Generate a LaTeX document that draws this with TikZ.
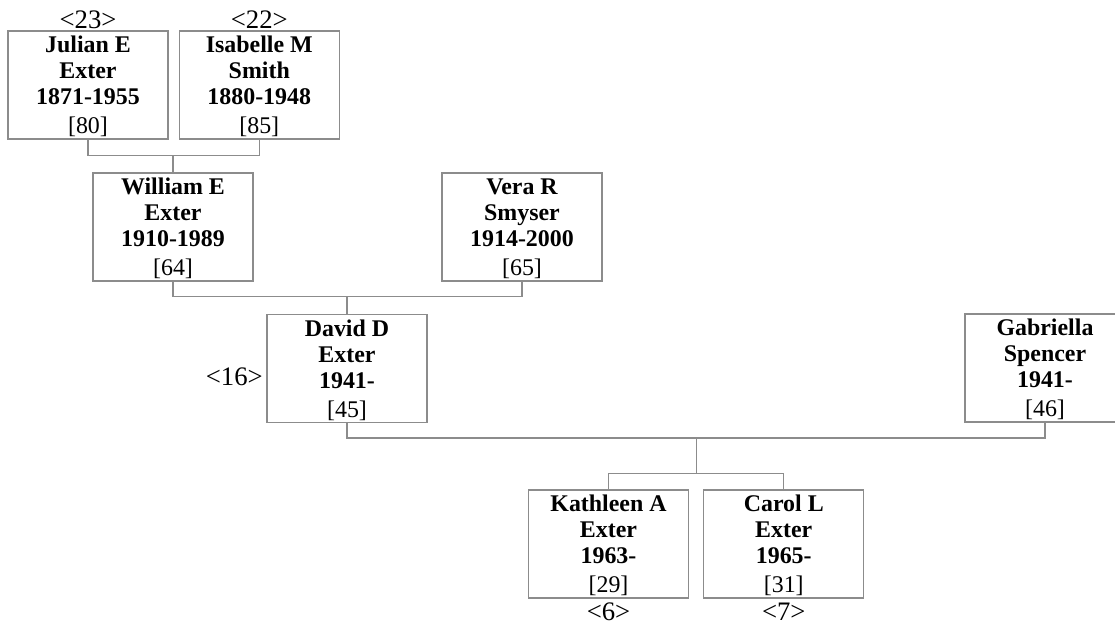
\documentclass[tikz,border=0pt]{standalone}
\usepackage{fontspec}
\setmainfont{Liberation Serif}
\usepackage{tikz}
\usetikzlibrary{positioning, calc}
\definecolor{boxgray}{RGB}{140,140,140}

\begin{document}
\begin{tikzpicture}[
        person/.style={rectangle, draw=boxgray, line width=0.9pt, minimum width=4cm, minimum height=2.7cm, inner sep=1pt, text depth=-5pt, align=center, font=\fontsize{17}{18.6}\selectfont\bfseries},
        idno/.style={inner sep=1pt, font=\fontsize{19}{21}\selectfont},
        famline/.style={draw=boxgray, line width=0.9pt}]
        \useasboundingbox (0,0) rectangle (27.875,15.7);

        \node (julian) [person] at (2.2,13.575) {Julian E\\Exter\\1871-1955\\[2pt]{\mdseries [80]}};
        \node (isabelle) [person, right=0.25cm of julian] {Isabelle M\\Smith\\1880-1948\\[2pt]{\mdseries [85]}};
        \node (william) [person] at (4.325,10.025) {William E\\Exter\\1910-1989\\[2pt]{\mdseries [64]}};
        \node (vera) [person] at (13.05,10.025) {Vera R\\Smyser\\1914-2000\\[2pt]{\mdseries [65]}};
        \node (david) [person] at (8.675,6.4875) {David D\\Exter\\1941-~\\[2pt]{\mdseries [45]}};
        \node (gabriella) [person] at (26.125,6.5) {Gabriella\\Spencer\\1941-~\\[2pt]{\mdseries [46]}};
        \node (kathleen) [person] at (15.2125,2.1) {Kathleen A\\Exter\\1963-~\\[2pt]{\mdseries [29]}};
        \node (carol) [person, right=0.35cm of kathleen] {Carol L\\Exter\\1965-~\\[2pt]{\mdseries [31]}};

        \node (julianno) [idno, above=0pt of julian] {<23>};
        \node (isabelleno) [idno, above=0pt of isabelle] {<22>};
        \node (davidno) [idno, left=0.05cm of david, yshift=-0.2cm] {<16>};
        \node (kathleenno) [idno, below=2pt of kathleen] {<6>};
        \node (carolno) [idno, below=2pt of carol] {<7>};

        \draw [famline] (julian.south) -- ++(0,-0.4) coordinate (fam1) -| (isabelle.south);
        \draw [famline] (william.north) -- (william.north |- fam1);
        \draw [famline] (william.south) -- ++(0,-0.375) coordinate (fam2) -| (vera.south);
        \draw [famline] (david.north) -- (david.north |- fam2);
        \draw [famline] (david.south) -- ++(0,-0.375) coordinate (fam3) -| (gabriella.south);
        \draw [famline] (kathleen.north) -- ++(0,0.4) coordinate (kids) -| (carol.north);
        \coordinate (kidsmid) at ($(kids)!0.5!(kids -| carol.north)$);
        \draw [famline] (kidsmid) -- (kidsmid |- fam3);
    \end{tikzpicture}
\end{document}
